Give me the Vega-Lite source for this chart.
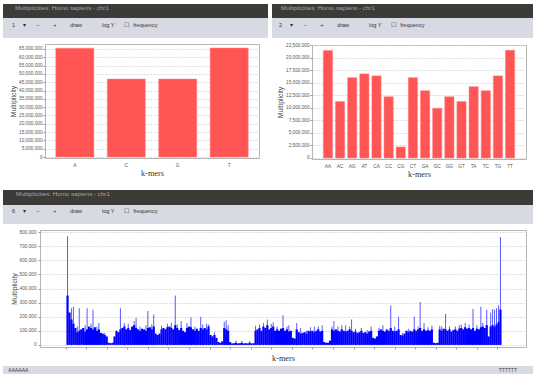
{
 "$schema": "https://vega.github.io/schema/vega-lite/v6.json",
 "background": "white",
 "padding": {"left": 3, "top": 4, "right": 0, "bottom": 0},
 "spacing": 11,
 "align": "none",
 "vconcat": [
  {
   "spacing": 4, "align": "none",
   "hconcat": [
    {
     "spacing": 0, "align": "none",
     "vconcat": [
      {"width": 265, "height": 14, "data": {"values": []}, "mark": "point", "view": {"fill": "#3c3b37", "stroke": null},
       "title": {"text": "Multiplicities: Homo sapiens - chr1", "offset": -7, "dx": 12, "color": "#a5a5a5", "fontSize": 6.2}},
      {"width": 265, "height": 20, "data": {"values": []}, "mark": "point", "view": {"fill": "#d7dae2", "stroke": null},
       "title": {"text": "1\u00a0\u00a0\u00a0\u00a0\u00a0▾\u00a0\u00a0\u00a0\u00a0\u00a0\u00a0\u00a0–\u00a0\u00a0\u00a0\u00a0\u00a0\u00a0\u00a0\u00a0\u00a0+\u00a0\u00a0\u00a0\u00a0\u00a0\u00a0\u00a0\u00a0\u00a0draw\u00a0\u00a0\u00a0\u00a0\u00a0\u00a0\u00a0\u00a0\u00a0\u00a0\u00a0\u00a0\u00a0log\u00a0Y\u00a0\u00a0\u00a0\u00a0\u00a0\u00a0☐\u00a0\u00a0\u00a0frequency", "offset": -10, "dx": 9, "color": "#333333", "fontSize": 5.5}},
      {"width": 265, "height": 5, "data": {"values": []}, "mark": "point"},
      {
       "spacing": 0, "align": "none",
       "hconcat": [
        {"width": 7, "height": 114, "data": {"values": []}, "mark": "point"},
        {
         "width": 214, "height": 114,
         "view": {"stroke": "#b5b5b5", "fill": "white"},
         "data": {"values": [
          {"k": "A", "m": 65500000}, {"k": "C", "m": 46900000}, {"k": "G", "m": 46900000}, {"k": "T", "m": 65600000}
         ]},
         "mark": {"type": "bar", "color": "#ff5555", "stroke": "#ff8080", "strokeWidth": 0.5},
         "encoding": {
          "x": {"field": "k", "type": "nominal", "sort": null, "scale": {"paddingInner": 0.26, "paddingOuter": 0.21},
                "axis": {"title": "k-mers", "labelAngle": 0, "ticks": false, "labelPadding": 4.5, "titlePadding": 1.5, "labelFontSize": 4.8}},
          "y": {"field": "m", "type": "quantitative", "scale": {"domain": [-600000, 68000000], "nice": false},
                "axis": {"title": "Multiplicity", "values": [0, 5000000, 10000000, 15000000, 20000000, 25000000, 30000000, 35000000, 40000000, 45000000, 50000000, 55000000, 60000000, 65000000], "format": ",d", "grid": true, "tickSize": 2, "labelPadding": 1, "titlePadding": 2}}
         }
        }
       ]
      }
     ]
    },
    {
     "spacing": 0, "align": "none",
     "vconcat": [
      {"width": 261, "height": 14, "data": {"values": []}, "mark": "point", "view": {"fill": "#3c3b37", "stroke": null},
       "title": {"text": "Multiplicities: Homo sapiens - chr1", "offset": -7, "dx": 9, "color": "#a5a5a5", "fontSize": 6.2}},
      {"width": 261, "height": 20, "data": {"values": []}, "mark": "point", "view": {"fill": "#d7dae2", "stroke": null},
       "title": {"text": "2\u00a0\u00a0\u00a0\u00a0\u00a0▾\u00a0\u00a0\u00a0\u00a0\u00a0\u00a0\u00a0–\u00a0\u00a0\u00a0\u00a0\u00a0\u00a0\u00a0\u00a0\u00a0+\u00a0\u00a0\u00a0\u00a0\u00a0\u00a0\u00a0\u00a0\u00a0draw\u00a0\u00a0\u00a0\u00a0\u00a0\u00a0\u00a0\u00a0\u00a0\u00a0\u00a0\u00a0\u00a0log\u00a0Y\u00a0\u00a0\u00a0\u00a0\u00a0\u00a0☐\u00a0\u00a0\u00a0frequency", "offset": -10, "dx": 7, "color": "#333333", "fontSize": 5.5}},
      {"width": 261, "height": 2.6, "data": {"values": []}, "mark": "point"},
      {
       "spacing": 0, "align": "none",
       "hconcat": [
        {"width": 4.5, "height": 114, "data": {"values": []}, "mark": "point"},
        {
         "width": 214, "height": 114,
         "view": {"stroke": "#b5b5b5", "fill": "white"},
         "data": {"values": [
          {"k": "AA", "m": 21400000}, {"k": "AC", "m": 11250000}, {"k": "AG", "m": 16000000}, {"k": "AT", "m": 16750000},
          {"k": "CA", "m": 16350000}, {"k": "CC", "m": 12200000}, {"k": "CG", "m": 2200000}, {"k": "CT", "m": 16000000},
          {"k": "GA", "m": 13400000}, {"k": "GC", "m": 9900000}, {"k": "GG", "m": 12200000}, {"k": "GT", "m": 11250000},
          {"k": "TA", "m": 14200000}, {"k": "TC", "m": 13400000}, {"k": "TG", "m": 16350000}, {"k": "TT", "m": 21450000}
         ]},
         "mark": {"type": "bar", "color": "#ff5555", "stroke": "#ff8080", "strokeWidth": 0.5},
         "encoding": {
          "x": {"field": "k", "type": "nominal", "sort": null, "scale": {"paddingInner": 0.24, "paddingOuter": 0.93},
                "axis": {"title": "k-mers", "labelAngle": 0, "ticks": false, "labelPadding": 4.5, "titlePadding": 1.5, "labelFontSize": 4.7}},
          "y": {"field": "m", "type": "quantitative", "scale": {"domain": [-200000, 22500000], "nice": false},
                "axis": {"title": "Multiplicity", "values": [0, 2500000, 5000000, 7500000, 10000000, 12500000, 15000000, 17500000, 20000000, 22500000], "format": ",d", "grid": true, "tickSize": 2, "labelPadding": 1, "titlePadding": 2}}
         }
        }
       ]
      }
     ]
    }
   ]
  },
  {
   "spacing": 0, "align": "none",
   "vconcat": [
    {"width": 530, "height": 15, "data": {"values": []}, "mark": "point", "view": {"fill": "#3c3b37", "stroke": null},
     "title": {"text": "Multiplicities: Homo sapiens - chr1", "offset": -7.5, "dx": 13, "color": "#a5a5a5", "fontSize": 6.2}},
    {"width": 530, "height": 19, "data": {"values": []}, "mark": "point", "view": {"fill": "#d7dae2", "stroke": null},
     "title": {"text": "6\u00a0\u00a0\u00a0\u00a0\u00a0▾\u00a0\u00a0\u00a0\u00a0\u00a0\u00a0\u00a0–\u00a0\u00a0\u00a0\u00a0\u00a0\u00a0\u00a0\u00a0\u00a0+\u00a0\u00a0\u00a0\u00a0\u00a0\u00a0\u00a0\u00a0\u00a0draw\u00a0\u00a0\u00a0\u00a0\u00a0\u00a0\u00a0\u00a0\u00a0\u00a0\u00a0\u00a0\u00a0log\u00a0Y\u00a0\u00a0\u00a0\u00a0\u00a0\u00a0☐\u00a0\u00a0\u00a0frequency", "offset": -9.5, "dx": 9, "color": "#333333", "fontSize": 5.5}},
    {"width": 530, "height": 4, "data": {"values": []}, "mark": "point"},
    {
     "spacing": 0, "align": "none",
     "hconcat": [
      {"width": 7, "height": 117, "data": {"values": []}, "mark": "point"},
      {
       "width": 486, "height": 117,
       "view": {"stroke": "#b5b5b5", "fill": "white"},
       "data": {"values": [
        {"i":0,"v":350000,"hi":770000},{"i":1,"v":230000},{"i":2,"v":180000,"hi":260000},{"i":3,"v":150000,"hi":270000},
        {"i":4,"v":120000},{"i":5,"v":90000,"hi":130000},{"i":6,"v":100000,"hi":260000},{"i":7,"v":110000},
        {"i":8,"v":120000},{"i":9,"v":95000,"hi":140000},{"i":10,"v":110000,"hi":260000},{"i":11,"v":130000},
        {"i":12,"v":120000,"hi":150000},{"i":13,"v":110000,"hi":250000},{"i":14,"v":125000},{"i":15,"v":100000,"hi":130000},
        {"i":16,"v":110000,"hi":155000},{"i":17,"v":85000},{"i":18,"v":80000},{"i":19,"v":70000,"hi":85000},
        {"i":20,"v":60000},{"i":21,"v":15000},{"i":22,"v":12000},{"i":23,"v":15000},
        {"i":24,"v":60000},{"i":25,"v":100000},{"i":26,"v":90000},{"i":27,"v":110000,"hi":260000},
        {"i":28,"v":120000},{"i":29,"v":130000,"hi":155000},{"i":30,"v":110000},{"i":31,"v":120000,"hi":150000},
        {"i":32,"v":105000},{"i":33,"v":130000},{"i":34,"v":140000,"hi":170000},{"i":35,"v":120000,"hi":190000},
        {"i":36,"v":110000},{"i":37,"v":100000,"hi":130000},{"i":38,"v":115000},{"i":39,"v":110000},
        {"i":40,"v":100000,"hi":140000},{"i":41,"v":120000,"hi":240000},{"i":42,"v":125000},{"i":43,"v":110000,"hi":145000},
        {"i":44,"v":130000,"hi":215000},{"i":45,"v":80000},{"i":46,"v":70000},{"i":47,"v":80000},
        {"i":48,"v":110000,"hi":135000},{"i":49,"v":120000},{"i":50,"v":110000},{"i":51,"v":125000,"hi":150000},
        {"i":52,"v":130000},{"i":53,"v":120000,"hi":155000},{"i":54,"v":110000},{"i":55,"v":140000,"hi":350000},
        {"i":56,"v":120000,"hi":145000},{"i":57,"v":105000},{"i":58,"v":120000,"hi":170000},{"i":59,"v":100000},
        {"i":60,"v":90000},{"i":61,"v":120000,"hi":155000},{"i":62,"v":130000},{"i":63,"v":125000,"hi":195000},
        {"i":64,"v":110000},{"i":65,"v":100000,"hi":130000},{"i":66,"v":115000},{"i":67,"v":100000},
        {"i":68,"v":120000,"hi":200000},{"i":69,"v":110000,"hi":145000},{"i":70,"v":120000},{"i":71,"v":110000,"hi":150000},
        {"i":72,"v":130000,"hi":145000},{"i":73,"v":70000},{"i":74,"v":60000},{"i":75,"v":70000,"hi":90000},
        {"i":76,"v":50000},{"i":77,"v":20000},{"i":78,"v":15000},{"i":79,"v":25000},
        {"i":80,"v":120000,"hi":165000},{"i":81,"v":110000,"hi":175000},{"i":82,"v":100000,"hi":140000},{"i":83,"v":20000},
        {"i":84,"v":10000},{"i":85,"v":12000},{"i":86,"v":15000,"hi":30000},{"i":87,"v":10000},
        {"i":88,"v":12000},{"i":89,"v":15000,"hi":30000},{"i":90,"v":10000},{"i":91,"v":12000},
        {"i":92,"v":10000},{"i":93,"v":15000,"hi":25000},{"i":94,"v":10000},{"i":95,"v":12000},
        {"i":96,"v":100000,"hi":135000},{"i":97,"v":110000},{"i":98,"v":120000,"hi":145000},{"i":99,"v":100000},
        {"i":100,"v":130000,"hi":155000},{"i":101,"v":120000},{"i":102,"v":140000,"hi":180000},{"i":103,"v":110000},
        {"i":104,"v":120000,"hi":150000},{"i":105,"v":130000,"hi":160000},{"i":106,"v":100000},{"i":107,"v":110000,"hi":130000},
        {"i":108,"v":100000},{"i":109,"v":115000},{"i":110,"v":120000,"hi":210000},{"i":111,"v":100000},
        {"i":112,"v":110000,"hi":130000},{"i":113,"v":95000,"hi":140000},{"i":114,"v":100000},{"i":115,"v":50000},
        {"i":116,"v":45000},{"i":117,"v":110000,"hi":155000},{"i":118,"v":90000},{"i":119,"v":80000,"hi":120000},
        {"i":120,"v":85000},{"i":121,"v":90000},{"i":122,"v":80000,"hi":100000},{"i":123,"v":100000},
        {"i":124,"v":95000,"hi":125000},{"i":125,"v":100000},{"i":126,"v":90000,"hi":130000},{"i":127,"v":100000},
        {"i":128,"v":110000,"hi":130000},{"i":129,"v":95000},{"i":130,"v":100000,"hi":140000},{"i":131,"v":20000},
        {"i":132,"v":15000},{"i":133,"v":15000},{"i":134,"v":30000},{"i":135,"v":110000,"hi":130000},
        {"i":136,"v":100000,"hi":170000},{"i":137,"v":110000},{"i":138,"v":100000,"hi":130000},{"i":139,"v":95000},
        {"i":140,"v":110000,"hi":140000},{"i":141,"v":100000},{"i":142,"v":95000,"hi":140000},{"i":143,"v":100000},
        {"i":144,"v":110000,"hi":130000},{"i":145,"v":100000,"hi":180000},{"i":146,"v":90000},{"i":147,"v":95000,"hi":115000},
        {"i":148,"v":85000},{"i":149,"v":90000},{"i":150,"v":100000,"hi":120000},{"i":151,"v":85000},
        {"i":152,"v":90000},{"i":153,"v":80000,"hi":105000},{"i":154,"v":95000},{"i":155,"v":100000,"hi":130000},
        {"i":156,"v":50000},{"i":157,"v":45000},{"i":158,"v":60000},{"i":159,"v":100000,"hi":120000},
        {"i":160,"v":110000},{"i":161,"v":100000,"hi":140000},{"i":162,"v":95000},{"i":163,"v":110000},
        {"i":164,"v":100000},{"i":165,"v":120000,"hi":280000},{"i":166,"v":100000},{"i":167,"v":95000,"hi":130000},
        {"i":168,"v":100000},{"i":169,"v":110000,"hi":200000},{"i":170,"v":70000},{"i":171,"v":65000,"hi":85000},
        {"i":172,"v":80000},{"i":173,"v":100000},{"i":174,"v":90000,"hi":115000},{"i":175,"v":100000},
        {"i":176,"v":95000},{"i":177,"v":110000,"hi":200000},{"i":178,"v":100000},{"i":179,"v":110000,"hi":130000},
        {"i":180,"v":120000,"hi":305000},{"i":181,"v":100000},{"i":182,"v":110000,"hi":155000},{"i":183,"v":100000},
        {"i":184,"v":105000,"hi":125000},{"i":185,"v":100000},{"i":186,"v":110000,"hi":135000},{"i":187,"v":15000},
        {"i":188,"v":12000},{"i":189,"v":15000},{"i":190,"v":110000,"hi":135000},{"i":191,"v":100000,"hi":130000},
        {"i":192,"v":115000},{"i":193,"v":110000,"hi":220000},{"i":194,"v":100000},{"i":195,"v":110000,"hi":130000},
        {"i":196,"v":95000},{"i":197,"v":105000},{"i":198,"v":110000,"hi":130000},{"i":199,"v":100000},
        {"i":200,"v":115000,"hi":140000},{"i":201,"v":120000,"hi":145000},{"i":202,"v":110000},{"i":203,"v":125000,"hi":155000},
        {"i":204,"v":115000},{"i":205,"v":120000,"hi":145000},{"i":206,"v":110000},{"i":207,"v":120000,"hi":255000},
        {"i":208,"v":100000},{"i":209,"v":115000,"hi":140000},{"i":210,"v":110000},{"i":211,"v":125000,"hi":270000},
        {"i":212,"v":130000,"hi":155000},{"i":213,"v":120000},{"i":214,"v":140000,"hi":250000},{"i":215,"v":60000},
        {"i":216,"v":130000,"hi":230000},{"i":217,"v":140000,"hi":255000},{"i":218,"v":130000,"hi":250000},{"i":219,"v":145000,"hi":260000},
        {"i":220,"v":160000,"hi":280000},{"i":221,"v":250000,"hi":765000}
       ]},
       "encoding": {
        "x": {"field": "i", "type": "quantitative", "scale": {"domain": [-11.5, 231.5], "nice": false, "zero": false},
              "axis": {"title": "k-mers", "labels": false, "grid": false, "tickSize": 2, "titlePadding": 4,
                       "values": [-1, 9.5, 20, 30.5, 41, 51.5, 62, 72.5, 83, 93.5, 104, 114.5, 125, 135.5, 146, 156.5, 167, 177.5, 188, 198.5, 209, 219.5]}}
       },
       "layer": [
        {"mark": {"type": "bar", "width": 1, "color": "#5a5aff"},
         "encoding": {"y": {"field": "hi", "type": "quantitative", "scale": {"domain": [-15000, 815000], "nice": false},
                      "axis": {"title": "Multiplicity", "values": [0, 100000, 200000, 300000, 400000, 500000, 600000, 700000, 800000], "format": ",d", "grid": true, "tickSize": 2, "labelPadding": 2, "titlePadding": 2}}}},
        {"mark": {"type": "bar", "width": 2.2, "color": "#0000ff"},
         "encoding": {"y": {"field": "v", "type": "quantitative", "scale": {"domain": [-15000, 815000], "nice": false},
                      "axis": {"title": "Multiplicity", "values": [0, 100000, 200000, 300000, 400000, 500000, 600000, 700000, 800000], "format": ",d", "grid": true, "tickSize": 2, "labelPadding": 2, "titlePadding": 2}}}}
       ]
      }
     ]
    },
    {"width": 530, "height": 3, "data": {"values": []}, "mark": "point"},
    {
     "width": 530, "height": 8,
     "view": {"fill": "#d7dae2", "stroke": null},
     "data": {"values": [{"k": "AAAAAA"}, {"k": "TTTTTT"}]},
     "encoding": {
      "x": {"field": "k", "type": "nominal", "scale": {"type": "point", "padding": 0.021, "align": 0.25, "domain": ["AAAAAA", "TTTTTT"]}, "axis": null},
      "text": {"field": "k"}
     },
     "layer": [
      {"transform": [{"filter": "datum.k == 'AAAAAA'"}], "mark": {"type": "text", "align": "left", "baseline": "middle", "fontSize": 5, "color": "#444444", "font": "Liberation Sans"}},
      {"transform": [{"filter": "datum.k == 'TTTTTT'"}], "mark": {"type": "text", "align": "right", "baseline": "middle", "fontSize": 5, "color": "#444444", "font": "Liberation Sans"}}
     ]
    }
   ]
  }
 ],
 "config": {
  "view": {"stroke": null},
  "font": "Liberation Sans",
  "title": {"font": "Liberation Sans", "fontWeight": "normal", "anchor": "start", "frame": "group", "baseline": "middle"},
  "axis": {
   "domain": false,
   "labelFont": "Liberation Sans", "labelFontSize": 4.7, "labelColor": "#555555",
   "titleFont": "Liberation Sans", "titleFontSize": 6.8, "titleFontWeight": "normal", "titleColor": "#444444",
   "tickColor": "#999999", "gridColor": "#d4d4d4", "gridDash": [1.5, 1.5]
  },
  "axisX": {"titleFont": "Liberation Serif", "titleFontSize": 8.3, "titleColor": "#333333"}
 }
}
